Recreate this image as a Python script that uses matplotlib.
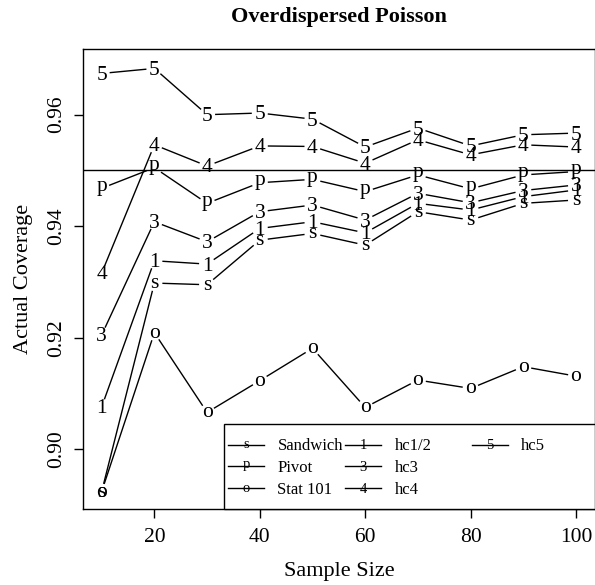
import numpy as np
import matplotlib
matplotlib.use("Agg")
import matplotlib.pyplot as plt
from matplotlib.lines import Line2D
from matplotlib.text import Text
from matplotlib.patches import Rectangle
from matplotlib.legend import Legend
from matplotlib.legend_handler import HandlerBase
from matplotlib.transforms import offset_copy

# ---- data ----
sample_size = [10, 20, 30, 40, 50, 60, 70, 80, 90, 100]
sandwich = [0.8924, 0.9298, 0.9295, 0.9375, 0.9387, 0.9366, 0.9426, 0.9411, 0.9441, 0.9447]
pivot    = [0.9468, 0.9505, 0.9441, 0.9478, 0.9484, 0.9462, 0.9492, 0.9467, 0.9492, 0.9498]
stat101  = [0.8924, 0.9209, 0.9066, 0.9123, 0.9181, 0.9075, 0.9124, 0.9109, 0.9148, 0.9131]
hc12     = [0.9076, 0.9338, 0.9332, 0.9396, 0.9408, 0.9388, 0.9441, 0.9429, 0.9453, 0.9465]
hc3      = [0.9205, 0.9408, 0.9372, 0.9426, 0.9438, 0.9411, 0.9459, 0.9442, 0.9464, 0.9474]
hc4      = [0.9316, 0.9546, 0.9508, 0.9544, 0.9543, 0.9513, 0.9555, 0.9528, 0.9546, 0.9542]
hc5      = [0.9674, 0.9683, 0.9600, 0.9603, 0.9592, 0.9542, 0.9576, 0.9544, 0.9564, 0.9567]
nominal = 0.95

series_names = ["Sandwich", "Pivot", "Stat 101", "hc1/2", "hc3", "hc4", "hc5"]
series_pch = ["s", "p", "o", "1", "3", "4", "5"]
series_vals = [sandwich, pivot, stat101, hc12, hc3, hc4, hc5]

x_ticks = [20, 40, 60, 80, 100]
y_ticks = [0.90, 0.92, 0.94, 0.96]
y_ticklabels = ["0.90", "0.92", "0.94", "0.96"]

FONT = "Liberation Serif"
plt.rcParams["font.family"] = [FONT, "DejaVu Serif"]

W, H = 595, 585
fig = plt.figure(figsize=(W / 100, H / 100), dpi=100)
left, right, top, bottom = 82.7, 595.0, 49.3, 509.3
axw, axh = right - left, bottom - top
ax = fig.add_axes([left / W, (H - bottom) / H, axw / W, axh / H])

ax.set_xlim(6.4, 103.6)
ax.set_ylim(0.88922, 0.97173)

ax.axhline(nominal, color="black", lw=1.0)

GAP = 8.0          # px between point glyph and connecting line (R type="b")
PCH_SIZE = 15.5    # pt
EM = PCH_SIZE * 100 / 72.0
# visual centre of each glyph above its baseline, in em
GLYPH_MID = {"s": 0.23, "o": 0.23, "p": 0.12, "1": 0.30, "3": 0.30, "4": 0.30, "5": 0.30}


def draw_series(xs, ys, ch):
    T = ax.transData
    pts = T.transform(np.column_stack([xs, ys]))
    inv = T.inverted()
    for i in range(len(xs) - 1):
        p0, p1 = pts[i], pts[i + 1]
        d = p1 - p0
        L = np.hypot(d[0], d[1])
        if L <= 2 * GAP:
            continue
        u = d / L
        a, b = inv.transform(np.array([p0 + u * GAP, p1 - u * GAP]))
        ax.plot([a[0], b[0]], [a[1], b[1]], color="black", lw=1.0, solid_capstyle="butt")
    tr = offset_copy(ax.transData, fig=fig, x=0, y=-GLYPH_MID[ch] * EM, units="dots")
    for xv, yv in zip(xs, ys):
        ax.text(xv, yv, ch, ha="center", va="baseline", fontsize=PCH_SIZE,
                family=FONT, transform=tr)


for vals, ch in zip(series_vals, series_pch):
    draw_series(sample_size, vals, ch)

# axes styling
for s in ax.spines.values():
    s.set_linewidth(1.0)
ax.set_xticks(x_ticks)
ax.set_xticklabels([str(v) for v in x_ticks])
ax.set_yticks(y_ticks)
ax.set_yticklabels(y_ticklabels)
ax.tick_params(axis="both", direction="out", length=6.5, width=1.0, labelsize=15.5)
ax.tick_params(axis="x", pad=7.2)
ax.tick_params(axis="y", pad=5.2)
for lab in ax.get_yticklabels():
    lab.set_rotation(90)
    lab.set_va("center")
    lab.set_ha("right")

ax.set_title("Overdispersed Poisson", fontsize=16, fontweight="bold", pad=20)
ax.set_xlabel("Sample Size", fontsize=16)
ax.set_ylabel("Actual Coverage", fontsize=16)
ax.xaxis.set_label_coords(0.5, -(562 - bottom) / axh)
ax.yaxis.set_label_coords(-(left - 33) / axw, 0.5)

LEG_PCH = 10.5  # pt


# ---- legend: line with the plotting character on it ----
class PchHandle:
    def __init__(self, ch):
        self.ch = ch


class HandlerPch(HandlerBase):
    def create_artists(self, legend, orig_handle, xdescent, ydescent,
                       width, height, fontsize, trans):
        y = (height - ydescent) / 2
        line = Line2D([-xdescent, width - xdescent], [y, y], color="black", lw=1.0,
                      transform=trans)
        txt = Text(width / 2 - xdescent, y - GLYPH_MID[orig_handle.ch] * LEG_PCH,
                   orig_handle.ch, ha="center", va="baseline",
                   fontsize=LEG_PCH, family=FONT, transform=trans)
        return [line, txt]


# legend frame (R style: flush with the bottom-right corner of the plot region)
box_left_px, box_top_px = 224.0, 424.0
ax.add_patch(Rectangle(((box_left_px - left) / axw, 0.0),
                       1.0 - (box_left_px - left) / axw, (bottom - box_top_px) / axh,
                       transform=ax.transAxes, facecolor="white", edgecolor="black",
                       lw=1.0, zorder=4.5, clip_on=False))

# three columns filled column-wise, like R's legend(ncol = 3)
col_handle_px = [228.0, 345.0, 471.7]
row1_px = 446.5
row_pitch = 21.7
cols = [[0, 1, 2], [3, 4, 5], [6]]
for cx, idx in zip(col_handle_px, cols):
    mid_row_y = row1_px + row_pitch * (len(idx) - 1) / 2.0
    lg = Legend(ax, [PchHandle(series_pch[i]) for i in idx],
                [series_names[i] for i in idx],
                handler_map={PchHandle: HandlerPch()},
                loc="center left",
                bbox_to_anchor=((cx - left) / axw, (bottom - mid_row_y) / axh),
                bbox_transform=ax.transAxes,
                fontsize=12, frameon=False, borderaxespad=0.0, borderpad=0.0,
                labelspacing=0.35, handlelength=2.16, handletextpad=0.81)
    lg.set_zorder(5)
    ax.add_artist(lg)

fig.savefig("out.png", dpi=100)
